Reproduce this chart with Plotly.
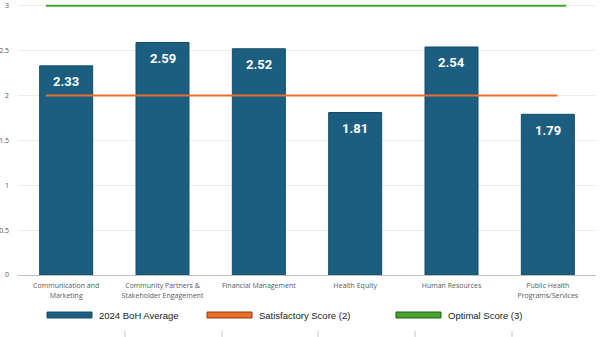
import plotly.graph_objects as go

# Domain scores
categories = [
    "Communication and<br>Marketing",
    "Community Partners &<br>Stakeholder Engagement",
    "Financial Management",
    "Health Equity",
    "Human Resources",
    "Public Health<br>Programs/Services",
]
boh_average = [2.33, 2.59, 2.52, 1.81, 2.54, 1.79]

# Reference score lines (value, right-hand extent in category units)
satisfactory_score = 2
optimal_score = 3
line_start = -0.21
satisfactory_end = 5.10
optimal_end = 5.19

y_ticks = [0, 0.5, 1, 1.5, 2, 2.5, 3]
y_ticktext = ["0", "0.5", "1", "1.5", "2", "2.5", "3"]
y_top = 3.03  # a little headroom so the optimal line is not clipped

BAR = "#1b5e7f"
BAR_EDGE = "#154d69"
ORANGE = "#ed6d2b"
GREEN = "#45a72a"
TICK_FONT = dict(family="Open Sans, DejaVu Sans, sans-serif", size=7, color="#595959")
LEGEND_FONT = dict(family="Liberation Sans Narrow, Liberation Sans, sans-serif",
                   size=9.5, color="#222222")

x_idx = list(range(len(categories)))

fig = go.Figure()
fig.add_trace(go.Bar(
    x=x_idx, y=boh_average, name="2024 BoH Average",
    marker=dict(color=BAR, line=dict(color=BAR_EDGE, width=1)),
    width=0.55, showlegend=False, hoverinfo="y",
))
fig.add_trace(go.Scatter(
    x=[line_start, satisfactory_end], y=[satisfactory_score] * 2, mode="lines",
    line=dict(color=ORANGE, width=2), showlegend=False,
))
fig.add_trace(go.Scatter(
    x=[line_start, optimal_end], y=[optimal_score] * 2, mode="lines",
    line=dict(color=GREEN, width=2), showlegend=False,
))

# Value labels just inside the top of each bar
for i, v in enumerate(boh_average):
    fig.add_annotation(
        x=i, y=v, text=f"{v:.2f}", showarrow=False, yshift=-16,
        font=dict(family="Roboto, Open Sans, sans-serif", size=13, color="white", weight="bold"),
    )

# Plot area geometry in pixels, used for the manual legend row
W, H = 605, 337
L, R, T, B = 18, 9, 3, 62
PW, PH = W - L - R, H - T - B


def px_x(px):
    return (px - L) / PW


def px_y(py):
    return (H - B - py) / PH


legend_items = [
    ("2024 BoH Average", BAR, BAR_EDGE, 47),
    ("Satisfactory Score (2)", ORANGE, "#8a3a12", 207),
    ("Optimal Score (3)", GREEN, "#22561a", 396),
]
for label, fill, edge, px in legend_items:
    fig.add_shape(
        type="rect", xref="paper", yref="paper",
        x0=px_x(px), x1=px_x(px + 45), y0=px_y(312), y1=px_y(318),
        fillcolor=fill, line=dict(color=edge, width=1),
    )
    fig.add_annotation(
        xref="paper", yref="paper", x=px_x(px + 50), y=px_y(315),
        text=label, showarrow=False, xanchor="left", yanchor="middle",
        font=LEGEND_FONT,
    )

# Small separators at the bottom edge
for px in [125, 222, 318, 415, 512]:
    fig.add_shape(
        type="line", xref="paper", yref="paper",
        x0=px_x(px), x1=px_x(px), y0=px_y(331), y1=px_y(340),
        line=dict(color="#c8c8c8", width=1),
    )

fig.update_layout(
    width=W, height=H,
    margin=dict(l=L, r=R, t=T, b=B),
    paper_bgcolor="white", plot_bgcolor="white",
    bargap=0.45,
    xaxis=dict(
        range=[-0.5, len(categories) - 0.5],
        tickvals=x_idx, ticktext=categories,
        tickfont=TICK_FONT, showgrid=False, zeroline=False,
        showline=True, linecolor="#bfbfbf", linewidth=1, ticks="",
        ticklabelstandoff=4, automargin=False,
    ),
    yaxis=dict(
        range=[0, y_top], tickvals=y_ticks, ticktext=y_ticktext,
        tickfont=TICK_FONT, showgrid=True, gridcolor="#ececec", gridwidth=1,
        zeroline=False, ticks="", showline=False, ticklabelstandoff=8,
        automargin=False,
    ),
)

fig.write_html("out.html")
